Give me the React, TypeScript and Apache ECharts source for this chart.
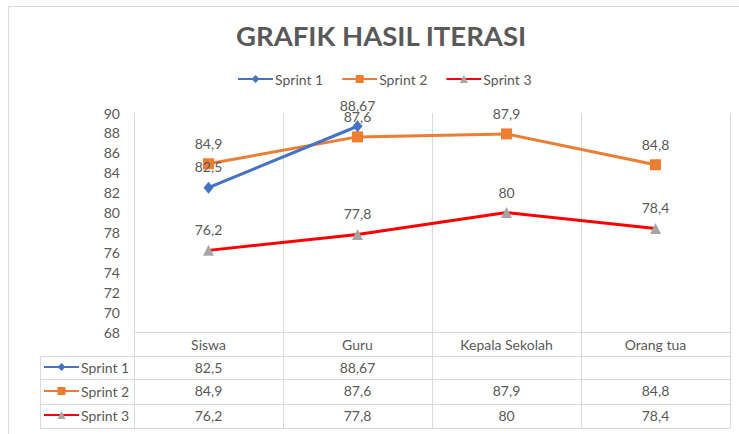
import React, { useEffect, useRef } from "react";
import * as echarts from "echarts";

const categories = ["Siswa", "Guru", "Kepala Sekolah", "Orang tua"];
const seriesNames = ["Sprint 1", "Sprint 2", "Sprint 3"];
const sprint1: (number | null)[] = [82.5, 88.67, null, null];
const sprint2: (number | null)[] = [84.9, 87.6, 87.9, 84.8];
const sprint3: (number | null)[] = [76.2, 77.8, 80, 78.4];
const yMin = 68;
const yMax = 90;
const yStep = 2;

const FONT = "Lato, 'Open Sans', sans-serif";
const TXT = "#595959";
const GRID = "#d9d9d9";
const FS = 14;

const fmt = (v: number | null | undefined) =>
  v == null ? "" : String(v).replace(".", ",");

export default function App() {
  const ref = useRef<HTMLDivElement>(null);
  useEffect(() => {
    if (!ref.current) return;
    const chart = echarts.init(ref.current, undefined, { renderer: "svg" });
    const allData = [sprint1, sprint2, sprint3];
    const lineColors = ["#4472C4", "#ED7D31", "#FF0000"];
    const markColors = ["#4472C4", "#ED7D31", "#A5A5A5"];
    const symbols = ["diamond", "rect", "triangle"];
    const symbolSizes = [[10, 12], 11, 11];

    const rowOffsets = [24, 47, 72];
    const rowTickLen = [23, 25, 24];

    const xAxes: any[] = [
      {
        type: "category",
        data: categories,
        position: "bottom",
        boundaryGap: true,
        axisLine: { show: true, lineStyle: { color: GRID, width: 1 } },
        axisTick: { show: true, length: 24, interval: 0, lineStyle: { color: GRID } },
        splitLine: { show: true, interval: 0, lineStyle: { color: GRID, width: 1 } },
        axisLabel: { interval: 0, margin: 5, color: TXT, fontSize: FS, fontFamily: FONT },
      },
    ];
    allData.forEach((arr, i) => {
      xAxes.push({
        type: "category",
        data: categories,
        position: "bottom",
        offset: rowOffsets[i],
        boundaryGap: true,
        axisLine: { show: true, lineStyle: { color: GRID, width: 1 } },
        axisTick: { show: true, length: rowTickLen[i], interval: 0, lineStyle: { color: GRID } },
        splitLine: { show: false },
        axisLabel: {
          interval: 0,
          margin: 4,
          color: TXT,
          fontSize: FS,
          fontFamily: FONT,
          formatter: (_v: string, idx: number) => fmt(arr[idx]),
        },
      });
    });
    xAxes.push({
      type: "category",
      data: categories,
      position: "bottom",
      offset: 96,
      axisLine: { show: true, lineStyle: { color: GRID, width: 1 } },
      axisTick: { show: false },
      axisLabel: { show: false },
      splitLine: { show: false },
    });

    const rowLines = [356, 379, 404, 428];

    chart.setOption({
      animation: false,
      backgroundColor: "#fff",
      textStyle: { fontFamily: FONT },
      title: {
        text: "GRAFIK HASIL ITERASI",
        left: 236,
        top: 21,
        padding: 0,
        textStyle: { fontSize: 27.5, fontWeight: "bold", color: TXT, fontFamily: FONT },
      },
      legend: [
        {
          data: seriesNames,
          top: 67,
          left: 232,
          itemWidth: 35,
          itemHeight: 10,
          itemGap: 18,
          selectedMode: false,
          textStyle: { color: TXT, fontSize: FS, fontFamily: FONT, padding: [0, 0, 0, -3] },
        },
        {
          data: seriesNames,
          orient: "vertical",
          left: 43,
          top: 359,
          itemWidth: 35,
          itemHeight: 10,
          itemGap: 8,
          padding: 0,
          selectedMode: false,
          textStyle: { color: TXT, fontSize: FS, fontFamily: FONT, lineHeight: 16, padding: [0, 0, 0, -3] },
        },
      ],
      grid: { left: 134, right: 9, top: 113, bottom: 102, containLabel: false },
      xAxis: xAxes,
      yAxis: {
        type: "value",
        min: yMin,
        max: yMax,
        interval: yStep,
        axisLine: { show: true, lineStyle: { color: GRID } },
        axisTick: { show: false },
        splitLine: { show: false },
        axisLabel: { color: TXT, fontSize: FS, fontFamily: FONT, margin: 14 },
      },
      graphic: [
        {
          type: "rect",
          shape: { x: 8.5, y: 6.5, width: 800, height: 500 },
          style: { fill: "none", stroke: "#d9d9d9", lineWidth: 1 },
          silent: true,
          z: -1,
        },
        ...rowLines.map((y) => ({
          type: "line",
          shape: { x1: 40, y1: y + 0.5, x2: 134, y2: y + 0.5 },
          style: { stroke: GRID, lineWidth: 1 },
          silent: true,
        })),
        {
          type: "line",
          shape: { x1: 40.5, y1: 356, x2: 40.5, y2: 429 },
          style: { stroke: GRID, lineWidth: 1 },
          silent: true,
        },
      ],
      series: allData.map((arr, i) => ({
        name: seriesNames[i],
        type: "line",
        xAxisIndex: 0,
        data: arr,
        symbol: symbols[i],
        symbolSize: symbolSizes[i],
        connectNulls: false,
        lineStyle: { color: lineColors[i], width: 3 },
        itemStyle: { color: markColors[i] },
        label: {
          show: true,
          position: "top",
          distance: 8,
          color: TXT,
          fontSize: FS,
          fontFamily: FONT,
          formatter: (p: any) => fmt(p.value),
        },
        z: 3 - i + 2,
      })),
    });
    return () => chart.dispose();
  }, []);
  return (
    <div
      ref={ref}
      style={{ position: "fixed", left: 0, top: 0, width: 739, height: 434 }}
    />
  );
}
